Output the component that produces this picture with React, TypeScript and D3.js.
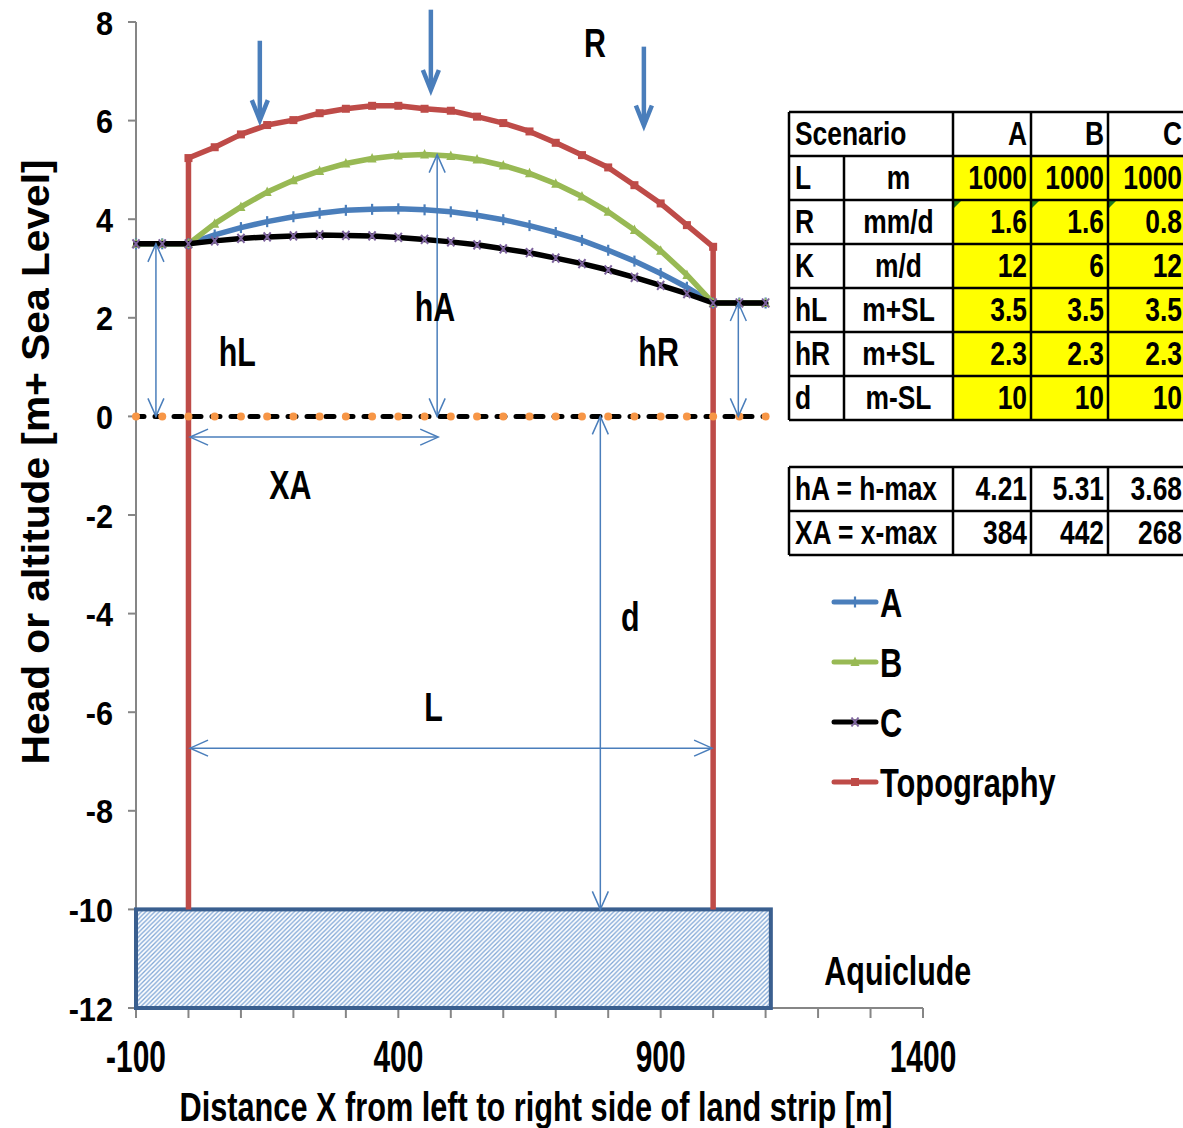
import React, { useEffect, useRef } from "react";
import * as d3 from "d3";

// distance along the strip [m] and heads [m + SL]
const distanceX = [-100, -50, 0, 50, 100, 150, 200, 250, 300, 350, 400, 450, 500, 550, 600, 650, 700, 750, 800, 850, 900, 950, 1000, 1050, 1100];
const headA = [3.5, 3.5, 3.5, 3.68, 3.83, 3.95, 4.05, 4.12, 4.18, 4.2, 4.21, 4.19, 4.15, 4.08, 3.99, 3.87, 3.73, 3.57, 3.37, 3.15, 2.9, 2.62, 2.3, 2.3, 2.3];
const headB = [3.5, 3.5, 3.5, 3.91, 4.25, 4.55, 4.79, 4.98, 5.13, 5.23, 5.29, 5.31, 5.28, 5.21, 5.09, 4.93, 4.72, 4.46, 4.15, 3.78, 3.36, 2.87, 2.3, 2.3, 2.3];
const headC = [3.5, 3.5, 3.5, 3.56, 3.61, 3.64, 3.66, 3.68, 3.67, 3.66, 3.63, 3.59, 3.54, 3.48, 3.4, 3.32, 3.21, 3.1, 2.97, 2.82, 2.66, 2.49, 2.3, 2.3, 2.3];
const seaLevel = [0, 0, 0, 0, 0, 0, 0, 0, 0, 0, 0, 0, 0, 0, 0, 0, 0, 0, 0, 0, 0, 0, 0, 0, 0];

const topoX = [0, 0, 50, 100, 150, 200, 250, 300, 350, 400, 450, 500, 550, 600, 650, 700, 750, 800, 850, 900, 950, 1000, 1000];
const topoY = [-10, 5.24, 5.46, 5.72, 5.91, 6.01, 6.15, 6.24, 6.3, 6.3, 6.24, 6.2, 6.08, 5.95, 5.78, 5.55, 5.3, 5.05, 4.69, 4.32, 3.88, 3.44, -10];

const aquicludeX = [-100, 1110];
const aquicludeY = [-12, -10];

const xTickLabels = [-100, 400, 900, 1400];
const yTickLabels = [8, 6, 4, 2, 0, -2, -4, -6, -8, -10, -12];

const scenarios = ["A", "B", "C"];
const paramNames = ["L", "R", "K", "hL", "hR", "d"];
const paramUnits = ["m", "mm/d", "m/d", "m+SL", "m+SL", "m-SL"];
const paramValues = [
  ["1000", "1000", "1000"],
  ["1.6", "1.6", "0.8"],
  ["12", "6", "12"],
  ["3.5", "3.5", "3.5"],
  ["2.3", "2.3", "2.3"],
  ["10", "10", "10"],
];
const resultNames = ["hA = h-max", "XA = x-max"];
const resultValues = [
  ["4.21", "5.31", "3.68"],
  ["384", "442", "268"],
];

// annotation arrows, data units [x1, y1, x2, y2]
const dimArrows = [
  [-62, 3.5, -62, 0],
  [474, 0, 474, 5.31],
  [1048, 0, 1048, 2.3],
  [3, -0.42, 476, -0.42],
  [3, -6.73, 998, -6.73],
  [785, 0, 785, -10],
];
const rechargeArrows = [
  [136, 7.62, 136, 5.97],
  [462, 8.25, 462, 6.58],
  [868, 7.5, 868, 5.86],
];
const labelNames = ["R", "hA", "hL", "hR", "XA", "d", "L", "Aquiclude"];
const labelX = [775, 470, 93, 896, 194, 842, 467, 1352];
const labelY = [7.57, 2.22, 1.31, 1.31, -1.39, -4.07, -5.89, -11.25];

const legendNames = ["A", "B", "C", "Topography"];

const BLUE = "#4A7EBB";
const GREEN = "#98B954";
const RED = "#BE4B48";
const PURPLE = "#7E649E";
const ORANGE = "#F79646";
const FONT = "'Liberation Sans', Arial, sans-serif";

export default function App() {
  const ref = useRef<SVGSVGElement>(null);

  useEffect(() => {
    const svg = d3.select(ref.current);
    svg.selectAll("*").remove();

    const x = d3.scaleLinear().domain([-100, 1400]).range([136, 923]);
    const y = d3.scaleLinear().domain([-12, 8]).range([1008, 22]);

    const txt = (g: any, px: number, py: number, s: string, size: number, sx: number, anchor: string) =>
      g.append("text")
        .attr("transform", `translate(${px},${py}) scale(${sx},1)`)
        .attr("text-anchor", anchor)
        .attr("font-family", FONT)
        .attr("font-weight", "bold")
        .attr("font-size", size)
        .attr("fill", "#000")
        .text(s);

    const defs = svg.append("defs");
    const pat = defs.append("pattern")
      .attr("id", "hatch")
      .attr("patternUnits", "userSpaceOnUse")
      .attr("width", 4.5)
      .attr("height", 4.5);
    pat.append("rect").attr("width", 4.5).attr("height", 4.5).attr("fill", "#fff");
    pat.append("path")
      .attr("d", "M-1,1 l2,-2 M0,4.5 l4.5,-4.5 M3.5,5.5 l2,-2")
      .attr("stroke", "#7FA6D6")
      .attr("stroke-width", 1.3);

    // axes
    const axis = svg.append("g").attr("stroke", "#868686").attr("stroke-width", 2);
    axis.append("line").attr("x1", x(-100)).attr("x2", x(-100)).attr("y1", y(8)).attr("y2", y(-12));
    axis.append("line").attr("x1", x(-100)).attr("x2", x(1400)).attr("y1", y(-12)).attr("y2", y(-12));
    d3.range(-12, 9, 2).forEach((v) => {
      axis.append("line").attr("x1", x(-100) - 8).attr("x2", x(-100)).attr("y1", y(v)).attr("y2", y(v));
    });
    d3.range(-100, 1401, 100).forEach((v) => {
      axis.append("line").attr("x1", x(v)).attr("x2", x(v)).attr("y1", y(-12)).attr("y2", y(-12) + 10);
    });

    yTickLabels.forEach((v) => txt(svg, 113, y(v) + 12.5, String(v), 33, 0.93, "end"));
    xTickLabels.forEach((v) => txt(svg, x(v), 1072, String(v), 44, 0.68, "middle"));

    svg.append("text")
      .attr("x", 536).attr("y", 1121)
      .attr("text-anchor", "middle")
      .attr("font-family", FONT).attr("font-weight", "bold").attr("font-size", 40)
      .attr("textLength", 713).attr("lengthAdjust", "spacingAndGlyphs")
      .text("Distance X from left to right side of land strip [m]");
    svg.append("text")
      .attr("transform", "translate(49,462) rotate(-90)")
      .attr("text-anchor", "middle")
      .attr("font-family", FONT).attr("font-weight", "bold").attr("font-size", 38)
      .attr("textLength", 605).attr("lengthAdjust", "spacingAndGlyphs")
      .text("Head or altitude  [m+ Sea Level]");

    // aquiclude block
    svg.append("rect")
      .attr("x", x(aquicludeX[0])).attr("y", y(aquicludeY[1]))
      .attr("width", x(aquicludeX[1]) - x(aquicludeX[0]))
      .attr("height", y(aquicludeY[0]) - y(aquicludeY[1]))
      .attr("fill", "url(#hatch)")
      .attr("stroke", "#3A5F8F").attr("stroke-width", 4);

    const line = d3.line<[number, number]>().x((d) => x(d[0])).y((d) => y(d[1]));
    const pts = (xs: number[], ys: number[]) => xs.map((v, i) => [v, ys[i]] as [number, number]);

    // topography
    svg.append("path").attr("d", line(pts(topoX, topoY))).attr("fill", "none")
      .attr("stroke", RED).attr("stroke-width", 5.5).attr("stroke-linejoin", "round");
    pts(topoX, topoY).filter((p) => p[1] > -10).forEach((p) => {
      svg.append("rect").attr("x", x(p[0]) - 4).attr("y", y(p[1]) - 4).attr("width", 8).attr("height", 8).attr("fill", RED);
    });

    // sea level
    svg.append("path").attr("d", line(pts(distanceX, seaLevel))).attr("fill", "none")
      .attr("stroke", "#000").attr("stroke-width", 5).attr("stroke-dasharray", "8,11")
      .attr("stroke-linecap", "round");
    distanceX.forEach((v) => {
      svg.append("circle").attr("cx", x(v)).attr("cy", y(0)).attr("r", 4).attr("fill", ORANGE);
    });

    const markA = (g: any, px: number, py: number) =>
      g.append("line").attr("x1", px).attr("x2", px).attr("y1", py - 5.5).attr("y2", py + 5.5).attr("stroke", BLUE).attr("stroke-width", 2.2);
    const markB = (g: any, px: number, py: number) =>
      g.append("path").attr("d", `M${px - 4.5},${py + 4}L${px},${py - 5.5}L${px + 4.5},${py + 4}Z`).attr("fill", GREEN);
    const markC = (g: any, px: number, py: number) =>
      g.append("path").attr("d", `M${px - 3.5},${py - 4.5}L${px + 3.5},${py + 4.5}M${px + 3.5},${py - 4.5}L${px - 3.5},${py + 4.5}`)
        .attr("stroke", PURPLE).attr("stroke-width", 2);

    const series: [number[], string, any][] = [
      [headA, BLUE, markA],
      [headB, GREEN, markB],
      [headC, "#000", markC],
    ];
    series.forEach(([vals, col, mk]) => {
      svg.append("path").attr("d", line(pts(distanceX, vals))).attr("fill", "none")
        .attr("stroke", col).attr("stroke-width", 5.5).attr("stroke-linejoin", "round").attr("stroke-linecap", "round");
      distanceX.forEach((v, i) => mk(svg, x(v), y(vals[i])));
    });

    // dimension arrows
    const head = (g: any, tx: number, ty: number, ang: number, len: number, half: number) => {
      const cx = tx - len * Math.cos(ang), cy = ty - len * Math.sin(ang);
      const nx = -Math.sin(ang) * half, ny = Math.cos(ang) * half;
      return g.append("path").attr("d", `M${cx + nx},${cy + ny}L${tx},${ty}L${cx - nx},${cy - ny}`).attr("fill", "none");
    };
    const ag = svg.append("g").attr("stroke", BLUE).attr("stroke-width", 1.5);
    dimArrows.forEach(([x1, y1, x2, y2]) => {
      const ax = x(x1), ay = y(y1), bx = x(x2), by = y(y2);
      ag.append("line").attr("x1", ax).attr("y1", ay).attr("x2", bx).attr("y2", by);
      const ang = Math.atan2(by - ay, bx - ax);
      head(ag, bx, by, ang, 18, 8);
      head(ag, ax, ay, ang + Math.PI, 18, 8);
    });
    const rg = svg.append("g").attr("stroke", BLUE).attr("stroke-width", 4.5).attr("stroke-linejoin", "miter");
    rechargeArrows.forEach(([x1, y1, x2, y2]) => {
      const ax = x(x1), ay = y(y1), bx = x(x2), by = y(y2);
      rg.append("line").attr("x1", ax).attr("y1", ay).attr("x2", bx).attr("y2", by - 3);
      head(rg, bx, by - 2, Math.PI / 2, 20, 8);
    });

    labelNames.forEach((s, i) => txt(svg, x(labelX[i]), y(labelY[i]) + 14, s, 40, 0.76, "middle"));

    // legend
    const legCols = [BLUE, GREEN, "#000", RED];
    const legMarks = [markA, markB, markC, (g: any, px: number, py: number) =>
      g.append("rect").attr("x", px - 4).attr("y", py - 4).attr("width", 8).attr("height", 8).attr("fill", RED)];
    const legY = [602, 662, 722, 782];
    legendNames.forEach((s, i) => {
      svg.append("line").attr("x1", 834).attr("x2", 876).attr("y1", legY[i]).attr("y2", legY[i])
        .attr("stroke", legCols[i]).attr("stroke-width", 5).attr("stroke-linecap", "round");
      legMarks[i](svg, 855, legY[i]);
      txt(svg, 880, legY[i] + 15, s, 40, 0.77, "start");
    });

    // parameter table
    const colX = [789, 844, 953, 1031, 1108, 1186];
    const top = 112, rh = 44;
    const tb = svg.append("g");
    paramValues.forEach((row, r) => {
      row.forEach((_, c) => {
        tb.append("rect").attr("x", colX[c + 2]).attr("y", top + rh * (r + 1))
          .attr("width", colX[c + 3] - colX[c + 2]).attr("height", rh).attr("fill", "#FFFF00");
      });
    });
    [0, 1, 2].forEach((c) => {
      tb.append("path").attr("d", `M${colX[c + 2] + 1},${top + rh * 2 + 1}h7l-7,7Z`).attr("fill", "#1E7B1E");
    });
    const grid = tb.append("g").attr("stroke", "#000").attr("stroke-width", 2.5);
    for (let r = 0; r <= 7; r++) grid.append("line").attr("x1", colX[0]).attr("x2", colX[5]).attr("y1", top + rh * r).attr("y2", top + rh * r);
    colX.forEach((cx, i) => {
      grid.append("line").attr("x1", cx).attr("x2", cx).attr("y1", i === 1 ? top + rh : top).attr("y2", top + rh * 7);
    });
    txt(tb, 795, top + rh / 2 + 11, "Scenario", 33, 0.8, "start");
    scenarios.forEach((s, c) => txt(tb, colX[c + 3] - 4, top + rh / 2 + 11, s, 33, 0.8, "end"));
    paramNames.forEach((s, r) => {
      const cy = top + rh * (r + 1) + rh / 2 + 11;
      txt(tb, 795, cy, s, 33, 0.8, "start");
      txt(tb, (colX[1] + colX[2]) / 2, cy, paramUnits[r], 33, 0.8, "middle");
      paramValues[r].forEach((v, c) => txt(tb, colX[c + 3] - 4, cy, v, 33, 0.8, "end"));
    });

    // results table
    const top2 = 467;
    const grid2 = tb.append("g").attr("stroke", "#000").attr("stroke-width", 2.5);
    for (let r = 0; r <= 2; r++) grid2.append("line").attr("x1", colX[0]).attr("x2", colX[5]).attr("y1", top2 + rh * r).attr("y2", top2 + rh * r);
    [0, 2, 3, 4, 5].forEach((i) => {
      grid2.append("line").attr("x1", colX[i]).attr("x2", colX[i]).attr("y1", top2).attr("y2", top2 + rh * 2);
    });
    resultNames.forEach((s, r) => {
      const cy = top2 + rh * r + rh / 2 + 11;
      txt(tb, 795, cy, s, 33, 0.8, "start");
      resultValues[r].forEach((v, c) => txt(tb, colX[c + 3] - 4, cy, v, 33, 0.8, "end"));
    });
  }, []);

  return (
    <div style={{ position: "absolute", left: 0, top: 0 }}>
      <svg ref={ref} width={1183} height={1128} style={{ display: "block", background: "#fff" }} />
    </div>
  );
}
